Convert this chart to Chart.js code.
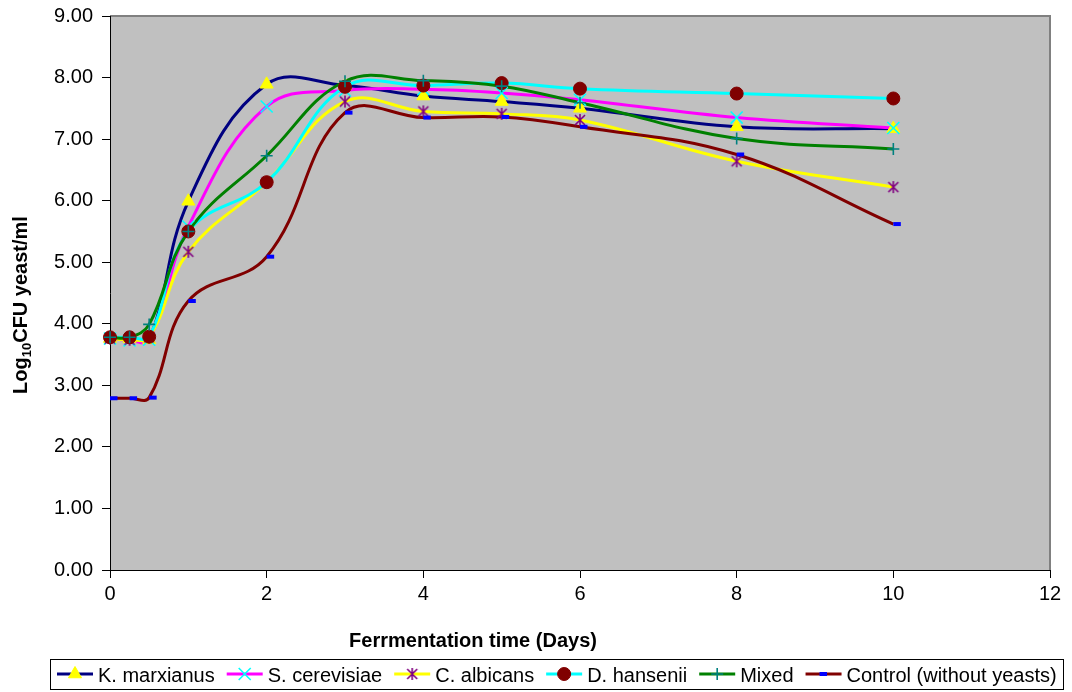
<!DOCTYPE html>
<html>
<head>
<meta charset="utf-8">
<title>Yeast counts during fermentation</title>
<script src="https://cdn.jsdelivr.net/npm/chart.js@4.4.1/dist/chart.umd.min.js"></script>
<style>
  html, body { margin: 0; padding: 0; background: #fff; }
  #wrap { width: 1072px; height: 692px; }
</style>
</head>
<body>
<div id="wrap"><canvas id="yeastChart"></canvas></div>
<script>
// sampling times (days)
const days = [0, 0.25, 0.5, 1, 2, 3, 4, 5, 6, 8, 10];

// Log10 CFU yeast/ml
const kMarxianus   = [3.76, 3.76, 3.74, 5.99, 7.89, 7.87, 7.70, 7.61, 7.50, 7.20, 7.17];
const sCerevisiae  = [3.76, 3.73, 3.74, 5.58, 7.53, 7.79, 7.81, 7.75, 7.64, 7.35, 7.18];
const cAlbicans    = [3.76, 3.74, 3.78, 5.17, 6.30, 7.61, 7.45, 7.41, 7.31, 6.64, 6.22];
const dHansenii    = [3.78, 3.78, 3.79, 5.50, 6.30, 7.85, 7.87, 7.91, 7.82, 7.74, 7.66];
const mixed        = [3.78, 3.78, 3.99, 5.50, 6.73, 7.94, 7.95, 7.86, 7.59, 7.01, 6.84];
const control      = [2.79, 2.79, 2.80, 4.37, 5.09, 7.43, 7.35, 7.36, 7.20, 6.75, 5.62];

const seriesNames = ['K. marxianus', 'S. cerevisiae', 'C. albicans', 'D. hansenii', 'Mixed', 'Control (without yeasts)'];
const seriesValues = [kMarxianus, sCerevisiae, cAlbicans, dHansenii, mixed, control];

const xTicks = [0, 2, 4, 6, 8, 10, 12];
const yTicks = [0, 1, 2, 3, 4, 5, 6, 7, 8, 9];

const FONT = '"Liberation Sans", Arial, sans-serif';

// Excel style asterisk: an X with a vertical bar
function makeAsterisk(color) {
    const c = document.createElement('canvas');
    c.width = 14; c.height = 14;
    const g = c.getContext('2d');
    g.strokeStyle = color;
    g.lineWidth = 1.6;
    g.beginPath();
    g.moveTo(7, 1); g.lineTo(7, 13);
    g.moveTo(2, 2); g.lineTo(12, 12);
    g.moveTo(12, 2); g.lineTo(2, 12);
    g.stroke();
    return c;
}

// styles (Excel default palette)
const lineColors   = ['#000080', '#FF00FF', '#FFFF00', '#00FFFF', '#008000', '#800000'];
const markerColors = ['#FFFF00', '#00FFFF', '#800080', '#800000', '#008080', '#0000FF'];
const markerStyles = ['triangle', 'crossRot', makeAsterisk('#800080'), 'circle', 'cross', 'dash'];
const markerSizes  = [7.5, 8.5, 7, 6.5, 6, 7.5];
const markerWidths = [1, 1.6, 1.5, 1, 1.6, 4];

function toPoints(vals) {
    return days.map((d, i) => ({ x: d, y: vals[i] }));
}

// lines first, then markers; later series on top
const datasets = [];
const n = seriesNames.length;
seriesNames.forEach((name, i) => {
    datasets.push({
        label: name,
        data: toPoints(seriesValues[i]),
        borderColor: lineColors[i],
        borderWidth: 3,
        pointRadius: 0,
        tension: 0.4,
        fill: false,
        clip: false,
        order: 2 * n - i
    });
});
seriesNames.forEach((name, i) => {
    datasets.push({
        label: name + ' markers',
        data: toPoints(seriesValues[i]),
        showLine: false,
        pointStyle: markerStyles[i],
        pointRadius: markerSizes[i],
        pointBackgroundColor: markerColors[i],
        pointBorderColor: markerColors[i],
        pointBorderWidth: markerWidths[i],
        clip: false,
        order: n - i
    });
});

function drawMarker(ctx, i, x, y) {
    ctx.save();
    ctx.fillStyle = markerColors[i];
    ctx.strokeStyle = markerColors[i];
    ctx.lineWidth = markerWidths[i];
    Chart.helpers.drawPoint(ctx, {
        pointStyle: markerStyles[i],
        radius: markerSizes[i],
        borderWidth: markerWidths[i],
        rotation: 0
    }, x, y);
    ctx.restore();
}

const decorPlugin = {
    id: 'decor',
    beforeDraw(chart) {
        const { ctx, chartArea: a } = chart;
        ctx.save();
        ctx.fillStyle = '#fff';
        ctx.fillRect(0, 0, chart.width, chart.height);
        ctx.fillStyle = '#C0C0C0';
        ctx.fillRect(a.left, a.top, a.right - a.left, a.bottom - a.top);
        ctx.strokeStyle = '#808080';
        ctx.lineWidth = 2;
        ctx.beginPath();
        ctx.moveTo(a.left, a.top);
        ctx.lineTo(a.right, a.top);
        ctx.lineTo(a.right, a.bottom);
        ctx.stroke();
        ctx.restore();
    },
    afterDraw(chart) {
        const { ctx } = chart;
        ctx.save();
        ctx.fillStyle = '#000';

        // y axis title with subscript
        ctx.translate(20, 305);
        ctx.rotate(-Math.PI / 2);
        ctx.textBaseline = 'alphabetic';
        ctx.font = 'bold 20px ' + FONT;
        const w1 = ctx.measureText('Log').width;
        const w3 = ctx.measureText('CFU yeast/ml').width;
        ctx.font = 'bold 13px ' + FONT;
        const w2 = ctx.measureText('10').width;
        let tx = -(w1 + w2 + w3) / 2;
        ctx.font = 'bold 20px ' + FONT;
        ctx.fillText('Log', tx, 7);
        tx += w1;
        ctx.font = 'bold 13px ' + FONT;
        ctx.fillText('10', tx, 11);
        tx += w2;
        ctx.font = 'bold 20px ' + FONT;
        ctx.fillText('CFU yeast/ml', tx, 7);
        ctx.setTransform(1, 0, 0, 1, 0, 0);

        // x axis title
        ctx.font = 'bold 20px ' + FONT;
        ctx.textAlign = 'center';
        ctx.fillText('Ferrmentation time (Days)', 473, 647);

        // legend box
        ctx.strokeStyle = '#000';
        ctx.lineWidth = 1;
        ctx.strokeRect(50.5, 659.5, 1013, 30);
        ctx.font = '20px ' + FONT;
        ctx.textAlign = 'left';
        let x = 57;
        const cy = 674;
        seriesNames.forEach((name, i) => {
            ctx.strokeStyle = lineColors[i];
            ctx.lineWidth = 3;
            ctx.beginPath();
            ctx.moveTo(x, cy);
            ctx.lineTo(x + 36, cy);
            ctx.stroke();
            drawMarker(ctx, i, i === 5 ? x + 14 : x + 18, cy);
            ctx.fillStyle = '#000';
            ctx.fillText(name, x + 41, 682);
            x += 41 + ctx.measureText(name).width + 12;
        });
        ctx.restore();
    }
};

new Chart(document.getElementById('yeastChart'), {
    type: 'line',
    data: { datasets: datasets },
    options: {
        responsive: true,
        maintainAspectRatio: false,
        animation: false,
        events: [],
        layout: { autoPadding: false, padding: { top: 16, right: 22, bottom: 80, left: 0 } },
        plugins: {
            legend: { display: false },
            tooltip: { enabled: false }
        },
        scales: {
            x: {
                type: 'linear',
                min: 0,
                max: 12,
                afterBuildTicks: s => { s.ticks = xTicks.map(v => ({ value: v })); },
                afterFit: s => { s.height = 692 - 80 - 570; },
                ticks: { color: '#000', padding: 4, font: { family: FONT, size: 20 } },
                grid: { drawOnChartArea: false, tickLength: 8, color: '#000' },
                border: { color: '#000', width: 1 }
            },
            y: {
                min: 0,
                max: 9,
                afterBuildTicks: s => { s.ticks = yTicks.map(v => ({ value: v })); },
                afterFit: s => { s.width = 110; s.paddingTop = 0; s.paddingBottom = 0; },
                ticks: {
                    color: '#000',
                    padding: 9,
                    font: { family: FONT, size: 20 },
                    callback: v => v.toFixed(2)
                },
                grid: { drawOnChartArea: false, tickLength: 8, color: '#000' },
                border: { color: '#000', width: 1 }
            }
        }
    },
    plugins: [decorPlugin]
});
</script>
</body>
</html>
